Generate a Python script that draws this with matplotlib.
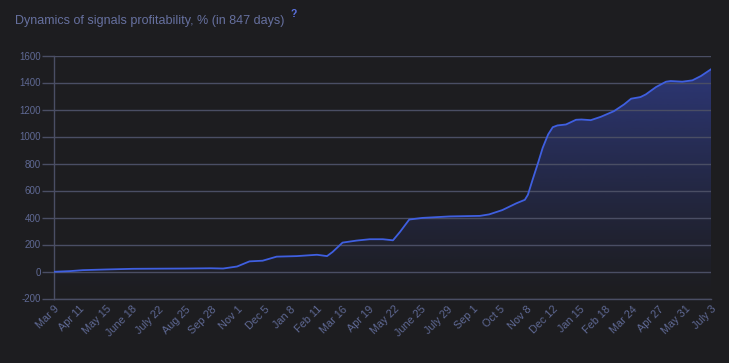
import matplotlib
matplotlib.use("Agg")
import matplotlib.pyplot as plt
import matplotlib.dates as mdates
import numpy as np
import pandas as pd

# profitability curve (date, %)
dates = ["2022-03-09", "2022-03-30", "2022-04-15", "2022-05-15", "2022-06-19",
         "2022-07-23", "2022-08-25", "2022-09-27", "2022-10-13", "2022-10-31",
         "2022-11-16", "2022-12-03", "2022-12-21", "2023-01-16", "2023-02-11",
         "2023-02-24", "2023-03-03", "2023-03-16", "2023-04-03", "2023-04-20",
         "2023-05-07", "2023-05-20", "2023-05-29", "2023-06-10", "2023-06-27",
         "2023-08-01", "2023-09-09", "2023-09-21", "2023-10-08", "2023-10-26",
         "2023-11-06", "2023-11-10", "2023-11-16", "2023-11-23", "2023-11-29",
         "2023-12-06", "2023-12-12", "2023-12-18", "2023-12-29", "2024-01-11",
         "2024-01-18", "2024-01-30", "2024-02-12", "2024-02-29", "2024-03-13",
         "2024-03-22", "2024-04-03", "2024-04-10", "2024-04-23", "2024-05-06",
         "2024-05-12", "2024-05-27", "2024-06-09", "2024-06-20", "2024-07-03"]
profit = [-2, 3, 10, 15, 20,
          21, 22, 24, 22, 37,
          75, 80, 110, 114, 124,
          114, 144, 214, 229, 239,
          239, 231, 293, 385, 397,
          408, 412, 423, 455, 505,
          531, 569, 680, 804, 916,
          1015, 1069, 1082, 1089, 1124,
          1126, 1121, 1146, 1188, 1238,
          1280, 1292, 1312, 1366, 1406,
          1411, 1406, 1416, 1448, 1498]

tick_dates = ["2022-03-09", "2022-04-11", "2022-05-15", "2022-06-18", "2022-07-22",
              "2022-08-25", "2022-09-28", "2022-11-01", "2022-12-05", "2023-01-08",
              "2023-02-11", "2023-03-16", "2023-04-19", "2023-05-22", "2023-06-25",
              "2023-07-29", "2023-09-01", "2023-10-05", "2023-11-08", "2023-12-12",
              "2024-01-15", "2024-02-18", "2024-03-24", "2024-04-27", "2024-05-31",
              "2024-07-03"]
tick_labels = ["Mar 9", "Apr 11", "May 15", "June 18", "July 22", "Aug 25", "Sep 28",
               "Nov 1", "Dec 5", "Jan 8", "Feb 11", "Mar 16", "Apr 19", "May 22",
               "June 25", "July 29", "Sep 1", "Oct 5", "Nov 8", "Dec 12", "Jan 15",
               "Feb 18", "Mar 24", "Apr 27", "May 31", "July 3"]
y_ticks = [-200, 0, 200, 400, 600, 800, 1000, 1200, 1400, 1600]

bg = "#1d1d20"
grid_col = "#4a4e64"
label_col = "#5f6994"
line_col = "#3f5fe0"

plt.rcParams["font.family"] = ["Liberation Sans", "DejaVu Sans"]

x = mdates.date2num(pd.to_datetime(dates))
y = np.array(profit)

fig = plt.figure(figsize=(7.29, 3.63), dpi=100, facecolor=bg)
ax = fig.add_axes([54 / 729, 1 - 298.5 / 363, 657 / 729, (298.5 - 55.5) / 363])
ax.set_facecolor(bg)

x0 = mdates.date2num(pd.Timestamp(tick_dates[0]))
x1 = mdates.date2num(pd.Timestamp(tick_dates[-1]))
ax.set_xlim(x0, x1)
ax.set_ylim(-200, 1600)

# gradient fill under the curve
poly = ax.fill_between(x, y, -200, color="none", lw=0)
grad = np.linspace(0, 1, 256).reshape(-1, 1)
rgba = np.zeros((256, 1, 4))
rgba[..., 0] = 0x3c / 255
rgba[..., 1] = 0x50 / 255
rgba[..., 2] = 0xc8 / 255
rgba[..., 3] = 0.55 * grad ** 1.2
img = ax.imshow(rgba, extent=[x0, x1, -200, 1600], origin="lower", aspect="auto", zorder=1)
path = poly.get_paths()[0]
img.set_clip_path(path, transform=ax.transData)

ax.plot(x, y, color=line_col, lw=1.3, zorder=3, solid_joinstyle="round")

ax.set_yticks(y_ticks)
ax.set_yticklabels([str(v) for v in y_ticks])
ax.set_xticks(mdates.date2num(pd.to_datetime(tick_dates)))
ax.set_xticklabels(tick_labels, rotation=45, ha="right", va="top", rotation_mode="anchor")
ax.grid(axis="y", color=grid_col, lw=1, zorder=0)
ax.tick_params(axis="y", colors=grid_col, labelcolor=label_col, labelsize=7, length=9, width=1, pad=0.5)
ax.tick_params(axis="x", colors=grid_col, labelcolor=label_col, labelsize=7.8, length=0, pad=4)
for side in ["top", "right"]:
    ax.spines[side].set_visible(False)
for side in ["left", "bottom"]:
    ax.spines[side].set_color(grid_col)
    ax.spines[side].set_linewidth(1)

fig.text(15 / 729, 1 - 24 / 363, "Dynamics of signals profitability, % (in 847 days)",
         color="#66709f", fontsize=9.0, ha="left", va="baseline")
fig.text(290 / 729, 1 - 17 / 363, "?", color="#5b72e0", fontsize=7.5, fontweight="bold",
         ha="left", va="baseline")

fig.savefig("out.png", dpi=100, facecolor=bg)
